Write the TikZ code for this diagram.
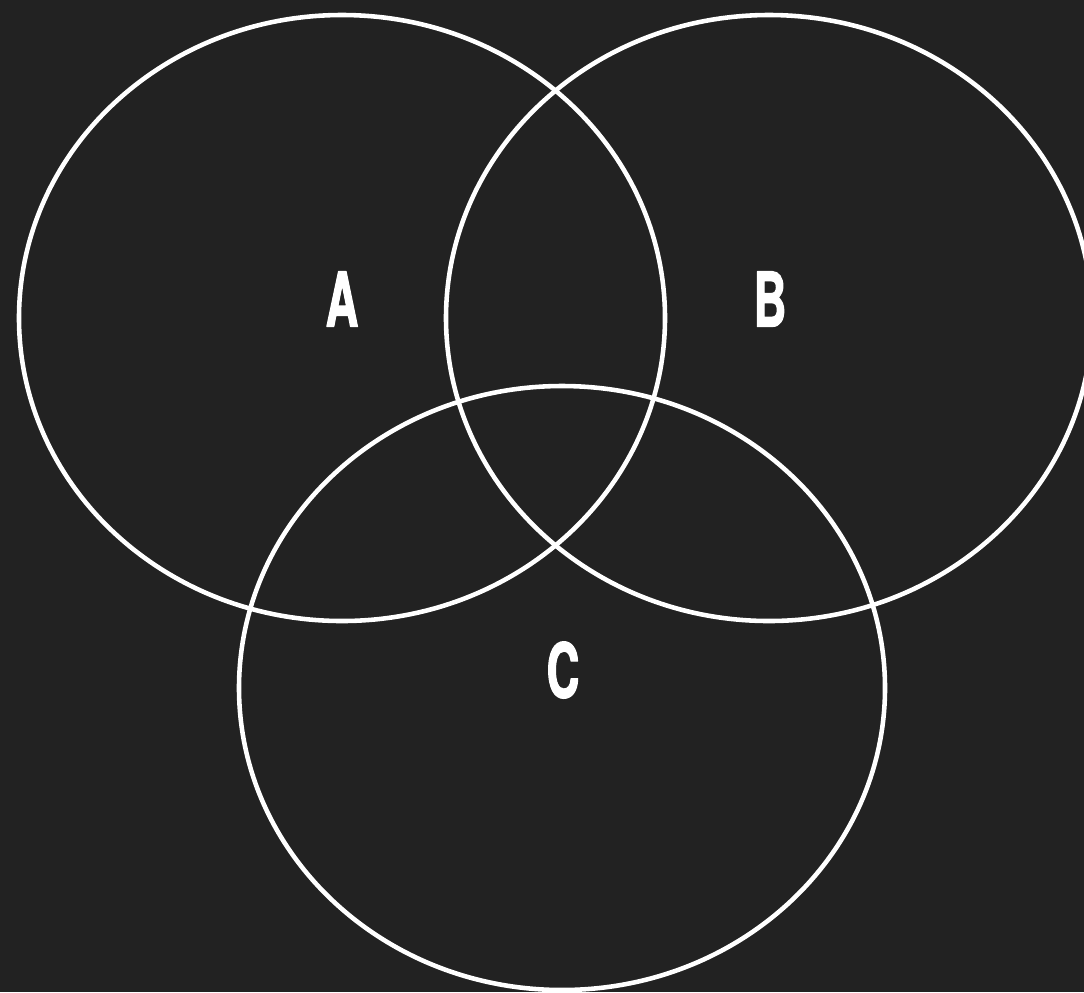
\documentclass[tikz,border=0pt]{standalone}
\usepackage{fontspec}
\newfontfamily\vennfont[FakeStretch=0.6, FakeBold=1.5]{TeX Gyre Heros}
\definecolor{bgdark}{HTML}{222222}

\begin{document}
\begin{tikzpicture}[x=0.02cm, y=-0.02cm, line cap=round, line join=round]

    \tikzset{
      setline/.style={draw=white, line width=2.6pt},
      setlabel/.style={text=white, font=\vennfont\bfseries\fontsize{43}{43}\selectfont, inner sep=0pt}
    }

    \fill[bgdark] (0,0) rectangle (1084,992);
    \useasboundingbox (0,0) rectangle (1084,992);
    \clip (0,0) rectangle (1084,992);

    % set centres
    \coordinate (ca) at (342,318);
    \coordinate (cb) at (769,318);
    \coordinate (cc) at (562,688);

    \draw[setline] (ca) ellipse [x radius=323, y radius=303];
    \draw[setline] (cb) ellipse [x radius=323, y radius=303];
    \draw[setline] (cc) ellipse [x radius=323, y radius=302];

    \node[setlabel] (la) at (342,299) {A};
    \node[setlabel] (lb) at (770,299) {B};
    \node[setlabel] (lc) at (563,670) {C};

\end{tikzpicture}
\end{document}
